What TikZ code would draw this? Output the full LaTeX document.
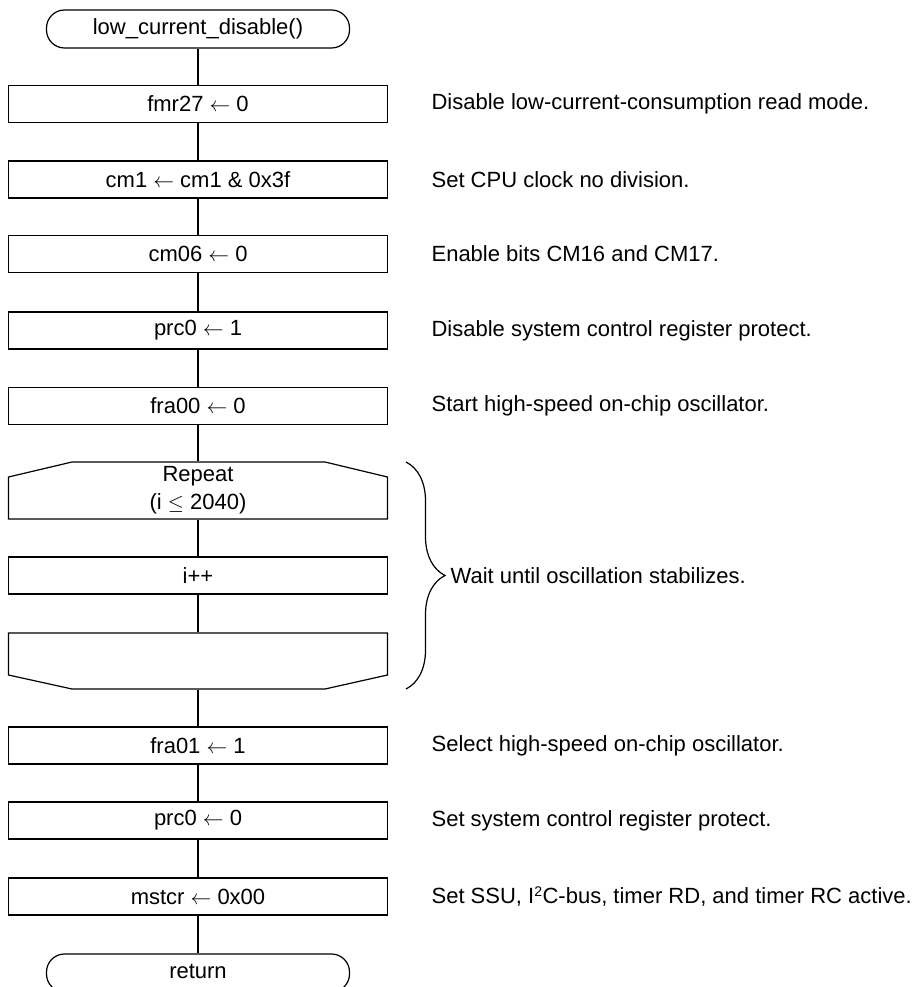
\documentclass[tikz,border=0pt]{standalone}
\usepackage{fontspec}
\setmainfont{Liberation Sans}
\usetikzlibrary{decorations.pathreplacing}
\begin{document}
\begin{tikzpicture}[x=1pt,y=-1pt, line width=1.2pt,
  font=\fontsize{22}{28}\selectfont,
  proc/.style={draw, minimum width=379pt, minimum height=37pt, inner sep=0pt},
  term/.style={draw, rounded corners=18pt, minimum width=303pt, minimum height=38pt, inner sep=0pt},
  loopnode/.style={minimum width=379pt, minimum height=57pt, inner sep=0pt, align=center},
  note/.style={anchor=west, inner sep=0pt},
  flow/.style={draw}]
\useasboundingbox (0,0) rectangle (917,987);

\node[term] (start) at (198,29) {low\_current\_disable()};
\node[proc] (b1) at (198,104) {fmr27 $\leftarrow$ 0};
\node[proc] (b2) at (198,179.5) {cm1 $\leftarrow$ cm1 \& 0x3f};
\node[proc] (b3) at (198,254) {cm06 $\leftarrow$ 0};
\node[proc] (b4) at (198,330.5) {prc0 $\leftarrow$ 1};
\node[proc] (b5) at (198,406) {fra00 $\leftarrow$ 0};
\node[loopnode] (lt) at (198,490.5) {Repeat\\(i $\leq$ 2040)};
\draw (8.5,519) -- (8.5,477) -- (72,462) -- (325,462) -- (387.5,477) -- (387.5,519) -- cycle;
\node[proc] (inc) at (198,575.5) {i++};
\node[loopnode] (lb) at (198,661) {};
\draw (8.5,633) -- (387.5,633) -- (387.5,675) -- (325,689) -- (72,689) -- (8.5,675) -- cycle;
\node[proc] (b6) at (198,745.5) {fra01 $\leftarrow$ 1};
\node[proc] (b7) at (198,820.5) {prc0 $\leftarrow$ 0};
\node[proc] (b8) at (198,896.5) {mstcr $\leftarrow$ 0x00};
\node[term] (ret) at (198,973) {\raisebox{3pt}{return}};

\draw[flow] (start) -- (b1);
\draw[flow] (b1) -- (b2);
\draw[flow] (b2) -- (b3);
\draw[flow] (b3) -- (b4);
\draw[flow] (b4) -- (b5);
\draw[flow] (b5) -- (lt);
\draw[flow] (lt) -- (inc);
\draw[flow] (inc) -- (lb);
\draw[flow] (lb) -- (b6);
\draw[flow] (b6) -- (b7);
\draw[flow] (b7) -- (b8);
\draw[flow] (b8) -- (ret);

\draw[decorate, decoration={brace, amplitude=39pt, aspect=0.5}] (406,462) -- (406,689);

\node[note] (n1) at (431,104) {Disable low-current-consumption read mode.};
\node[note] (n2) at (431,179.5) {Set CPU clock no division.};
\node[note] (n3) at (431,254) {Enable bits CM16 and CM17.};
\node[note] (n4) at (431,330.5) {Disable system control register protect.};
\node[note] (n5) at (431,406) {Start high-speed on-chip oscillator.};
\node[note] (nw) at (450,576) {Wait until oscillation stabilizes.};
\node[note] (n6) at (431,745.5) {Select high-speed on-chip oscillator.};
\node[note] (n7) at (431,820.5) {Set system control register protect.};
\node[note] (n8) at (431,896.5) {Set SSU, I\textsuperscript{\fontsize{14}{14}\selectfont 2}C-bus, timer RD, and timer RC active.};
\end{tikzpicture}
\end{document}
